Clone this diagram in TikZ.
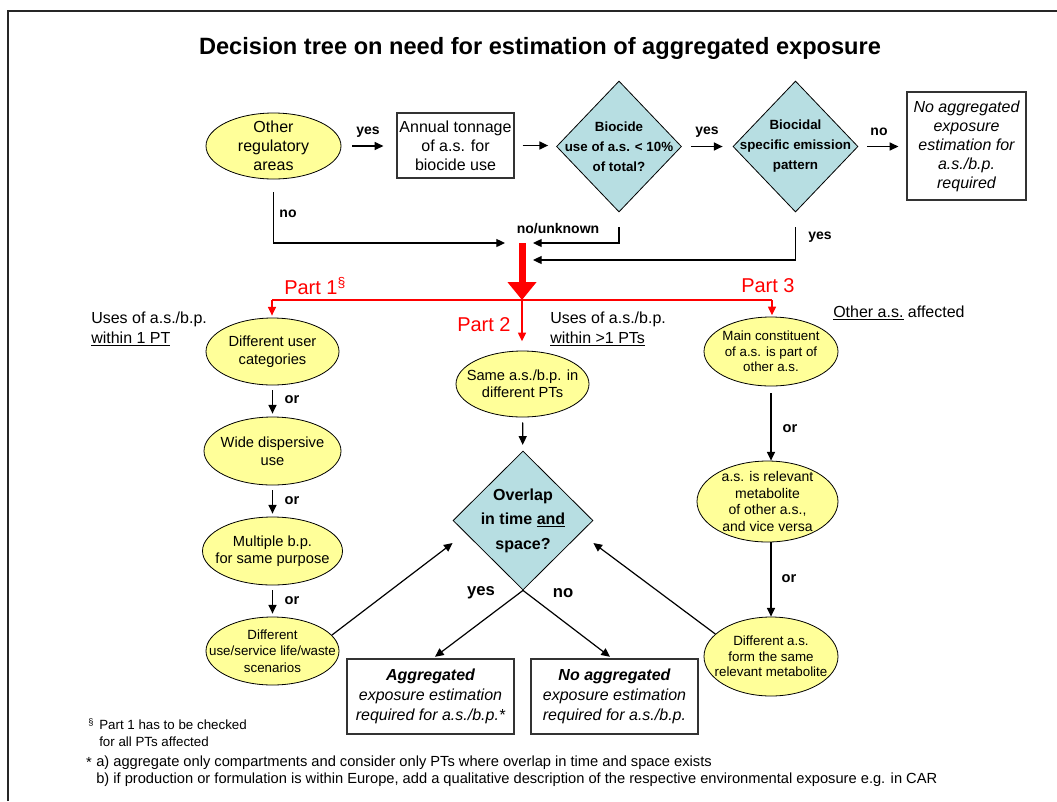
\documentclass[tikz,border=0pt]{standalone}
\usepackage{fontspec}
\setmainfont{Liberation Sans}
\usetikzlibrary{shapes.geometric,arrows.meta}
\definecolor{yel}{RGB}{255,255,153}
\definecolor{dblue}{RGB}{183,222,226}
\tikzset{
 ell/.style={ellipse, draw=black, fill=yel, line width=0.6pt, inner sep=0pt},
 dmd/.style={diamond, draw=black, fill=dblue, line width=0.6pt, inner sep=0pt},
 boxx/.style={rectangle, draw=black!80, line width=0.9pt, inner sep=0pt},
 txt/.style={align=center, inner sep=0pt},
 arr/.style={-{Triangle[length=6.5pt,width=6pt]}, line width=0.9pt},
 redarr/.style={red, line width=1pt, -{Triangle[length=6.5pt,width=6pt]}},
 lbl/.style={font=\fontsize{10.5}{12}\selectfont\bfseries, inner sep=0pt},
 orl/.style={font=\fontsize{11}{12}\selectfont\bfseries, inner sep=0pt},
 blbl/.style={font=\fontsize{12.5}{14}\selectfont\bfseries, inner sep=0pt},
 redtxt/.style={red, font=\fontsize{15}{18}\selectfont, inner sep=0pt, anchor=west},
}
\begin{document}
\begin{tikzpicture}[x=0.75pt,y=-0.75pt]
\useasboundingbox (0,0) rectangle (1057,801);
\draw[line width=1.5pt, black!85] (8,801) -- (8,11) -- (1057,11);
\node[font=\fontsize{17.7}{20}\selectfont\bfseries] (title) at (540,48) {Decision tree on need for estimation of aggregated exposure};

% top row
\node[ell, minimum width=101.25pt, minimum height=49.5pt] (other) at (273.5,146) {};
\node[txt, font=\fontsize{12}{14.25}\selectfont] (other-t) at (other) {Other\\regulatory\\areas};
\node[boxx, minimum width=87.75pt, minimum height=48.75pt] (annual) at (455.5,145.5) {};
\node[txt, font=\fontsize{12}{14.25}\selectfont] (annual-t) at (annual) {Annual tonnage\\of a.s. for\\biocide use};
\node[dmd, minimum width=93.75pt, minimum height=98.25pt] (d1) at (619,146.5) {};
\node[txt, font=\fontsize{10}{15}\selectfont\bfseries] (d1-t) at (d1) {Biocide\\use of a.s. < 10\%\\of total?};
\node[dmd, minimum width=93.75pt, minimum height=98.25pt] (d2) at (795.5,146.5) {};
\node[txt, font=\fontsize{10}{15}\selectfont\bfseries] (d2-t) at (d2) {Biocidal\\specific emission\\pattern};
\node[boxx, minimum width=89.25pt, minimum height=81pt] (noagg1) at (966.5,146) {};
\node[txt, font=\fontsize{12}{14.25}\selectfont\itshape] (noagg1-t) at (noagg1) {No aggregated\\exposure\\estimation for\\a.s./b.p.\\required};

\draw[arr, shorten <=8.25pt, shorten >=9.75pt] (other.east) -- (other.east -| annual.west);
\node[lbl] (l-yes1) at (368,132) {yes};
\draw[arr, shorten <=6pt, shorten >=6pt] (annual.east) -- (annual.east -| d1.west);
\draw[arr, shorten <=6.75pt, shorten >=7.5pt] (d1.east) -- (d2.west);
\node[lbl] (l-yes2) at (707,132) {yes};
\draw[arr, shorten <=6.75pt, shorten >=6pt] (d2.east) -- (d2.east -| noagg1.west);
\node[lbl] (l-no1) at (879,132) {no};

% merge
\coordinate (j1) at (522,243);
\coordinate (j2) at (522,260);
\coordinate (sp) at (522,300);
\coordinate (p1) at (272,300);
\coordinate (p3) at (772,300);
\draw[arr] ([yshift=-9.75pt]other.south) |- ([xshift=-12.75pt]j1);
\node[lbl] (l-no2) at (288,214) {no};
\draw[arr] ([yshift=-11.25pt]d1.south) |- ([xshift=8.25pt]j1);
\node[lbl] (l-nounk) at (558,229) {no/unknown};
\draw[arr] ([yshift=-11.25pt]d2.south) |- ([xshift=8.25pt]j2);
\node[lbl] (l-yes3) at (820,237) {yes};
\draw[red, line width=5.25pt, -{Triangle[length=13.5pt,width=21pt]}] (j1) -- (sp);

% columns
\node[ell, minimum width=99.75pt, minimum height=50.25pt] (du1) at (272.5,351.5) {};
\node[txt, font=\fontsize{11}{13.5}\selectfont] (du1-t) at (du1) {Different user\\categories};
\node[ell, minimum width=102.75pt, minimum height=51pt] (wd) at (272.5,451) {};
\node[txt, font=\fontsize{11}{13.5}\selectfont] (wd-t) at (wd) {Wide dispersive\\use};
\node[ell, minimum width=105pt, minimum height=51pt] (mb) at (272.5,551) {};
\node[txt, font=\fontsize{11}{12.75}\selectfont] (mb-t) at (mb) {Multiple b.p.\\for same purpose};
\node[ell, minimum width=99.75pt, minimum height=51pt] (dus) at (272.5,651) {};
\node[txt, font=\fontsize{10}{12.4}\selectfont] (dus-t) at (dus) {Different\\use/service life/waste\\scenarios};

\node[ell, minimum width=99.75pt, minimum height=49.5pt] (same) at (522.5,384) {};
\node[txt, font=\fontsize{11}{12.5}\selectfont] (same-t) at (same) {Same a.s./b.p. in\\different PTs};
\node[dmd, minimum width=105pt, minimum height=104.25pt] (ov) at (523,520.5) {};
\node[txt, font=\fontsize{12}{18.4}\selectfont\bfseries] (ov-t) at (ov) {Overlap\\in time \underline{and}\\space?};
\node[boxx, minimum width=125.25pt, minimum height=56.25pt] (yesbox) at (430.5,696.5) {};
\node[txt, font=\fontsize{12}{15}\selectfont\itshape] (yesbox-t) at (yesbox) {\textbf{Aggregated}\\exposure estimation\\required for a.s./b.p.*};
\node[boxx, minimum width=125.25pt, minimum height=56.25pt] (nobox) at (614.5,696.5) {};
\node[txt, font=\fontsize{12}{15}\selectfont\itshape] (nobox-t) at (nobox) {\textbf{No aggregated}\\exposure estimation\\required for a.s./b.p.};

\node[ell, minimum width=100.5pt, minimum height=51.75pt] (mc) at (771,351.5) {};
\node[txt, font=\fontsize{10}{11.6}\selectfont] (mc-t) at (mc) {Main constituent\\of a.s. is part of\\other a.s.};
\node[ell, minimum width=105.75pt, minimum height=60.75pt] (rm) at (767.5,501.5) {};
\node[txt, font=\fontsize{10.5}{12.5}\selectfont] (rm-t) at (rm) {a.s. is relevant\\metabolite\\of other a.s.,\\and vice versa};
\node[ell, minimum width=100.5pt, minimum height=59.25pt] (da) at (771,656.5) {};
\node[txt, font=\fontsize{10}{11.6}\selectfont] (da-t) at (da) {Different a.s.\\form the same\\relevant metabolite};

% red distribution
\draw[red, line width=1pt] (p1) -- (p3);
\draw[redarr, shorten >=1.5pt] (p1) -- (p1 |- du1.north);
\draw[redarr, shorten >=7pt] (sp) -- (sp |- same.north);
\draw[redarr, shorten >=1pt] (p3) -- (p3 |- mc.north);
\node[redtxt] (part1) at (284,286) {Part 1\textsuperscript{\S}};
\node[redtxt] (part2) at (457,325) {Part 2};
\node[redtxt] (part3) at (741,286) {Part 3};

\node[anchor=west, align=left, inner sep=0pt, font=\fontsize{12}{15}\selectfont] (uses1) at (91,329) {Uses of a.s./b.p.\\\underline{within 1 PT}};
\node[anchor=west, align=left, inner sep=0pt, font=\fontsize{12}{15}\selectfont] (uses2) at (550,329) {Uses of a.s./b.p.\\\underline{within >1 PTs}};
\node[anchor=west, inner sep=0pt, font=\fontsize{12}{15}\selectfont] (otheras) at (833,313) {\underline{Other a.s.} affected};

% left column arrows
\draw[arr, shorten <=3.75pt, shorten >=2.25pt] (du1) -- (wd);
\node[orl] (or1) at (292,400) {or};
\draw[arr, shorten <=3.75pt, shorten >=2.25pt] (wd) -- (mb);
\node[orl] (or2) at (292,501) {or};
\draw[arr, shorten <=3.75pt, shorten >=2.25pt] (mb) -- (dus);
\node[orl] (or3) at (292,601) {or};

% middle
\draw[arr, shorten <=3.75pt, shorten >=4.5pt] (same) -- (ov);
\draw[arr] (dus.15) -- ([yshift=-16.9pt]ov.west);
\draw[arr] (da.158) -- ([yshift=-16.9pt]ov.east);
\draw[arr] (ov.south) -- ([xshift=3.4pt,yshift=1.2pt]yesbox.north);
\draw[arr] (ov.south) -- ([xshift=-3.4pt,yshift=1.2pt]nobox.north);
\node[blbl] (l-yes4) at (481,593) {yes};
\node[blbl] (l-no4) at (563,593) {no};

% right column
\draw[arr, shorten <=5.25pt] (mc.south) -- (mc.south |- rm.north);
\node[orl] (or4) at (790,429) {or};
\draw[arr] (mc.south |- rm.south) -- (mc.south |- da.north);
\node[orl] (or5) at (789,579) {or};

% footnotes
\node[inner sep=0pt, font=\fontsize{7}{8}\selectfont] (fs1) at (91,722) {\S};
\node[anchor=west, align=left, inner sep=0pt, font=\fontsize{10}{12.4}\selectfont] (fn1) at (99,733) {Part 1 has to be checked\\for all PTs affected};
\node[inner sep=0pt, font=\fontsize{11}{12}\selectfont] (fs2) at (89,762) {*};
\node[anchor=west, align=left, inner sep=0pt, font=\fontsize{11}{12.75}\selectfont] (fn2) at (96,771.5) {a) aggregate only compartments and consider only PTs where overlap in time and space exists\\b) if production or formulation is within Europe, add a qualitative description of the respective environmental exposure e.g. in CAR};
\end{tikzpicture}
\end{document}
